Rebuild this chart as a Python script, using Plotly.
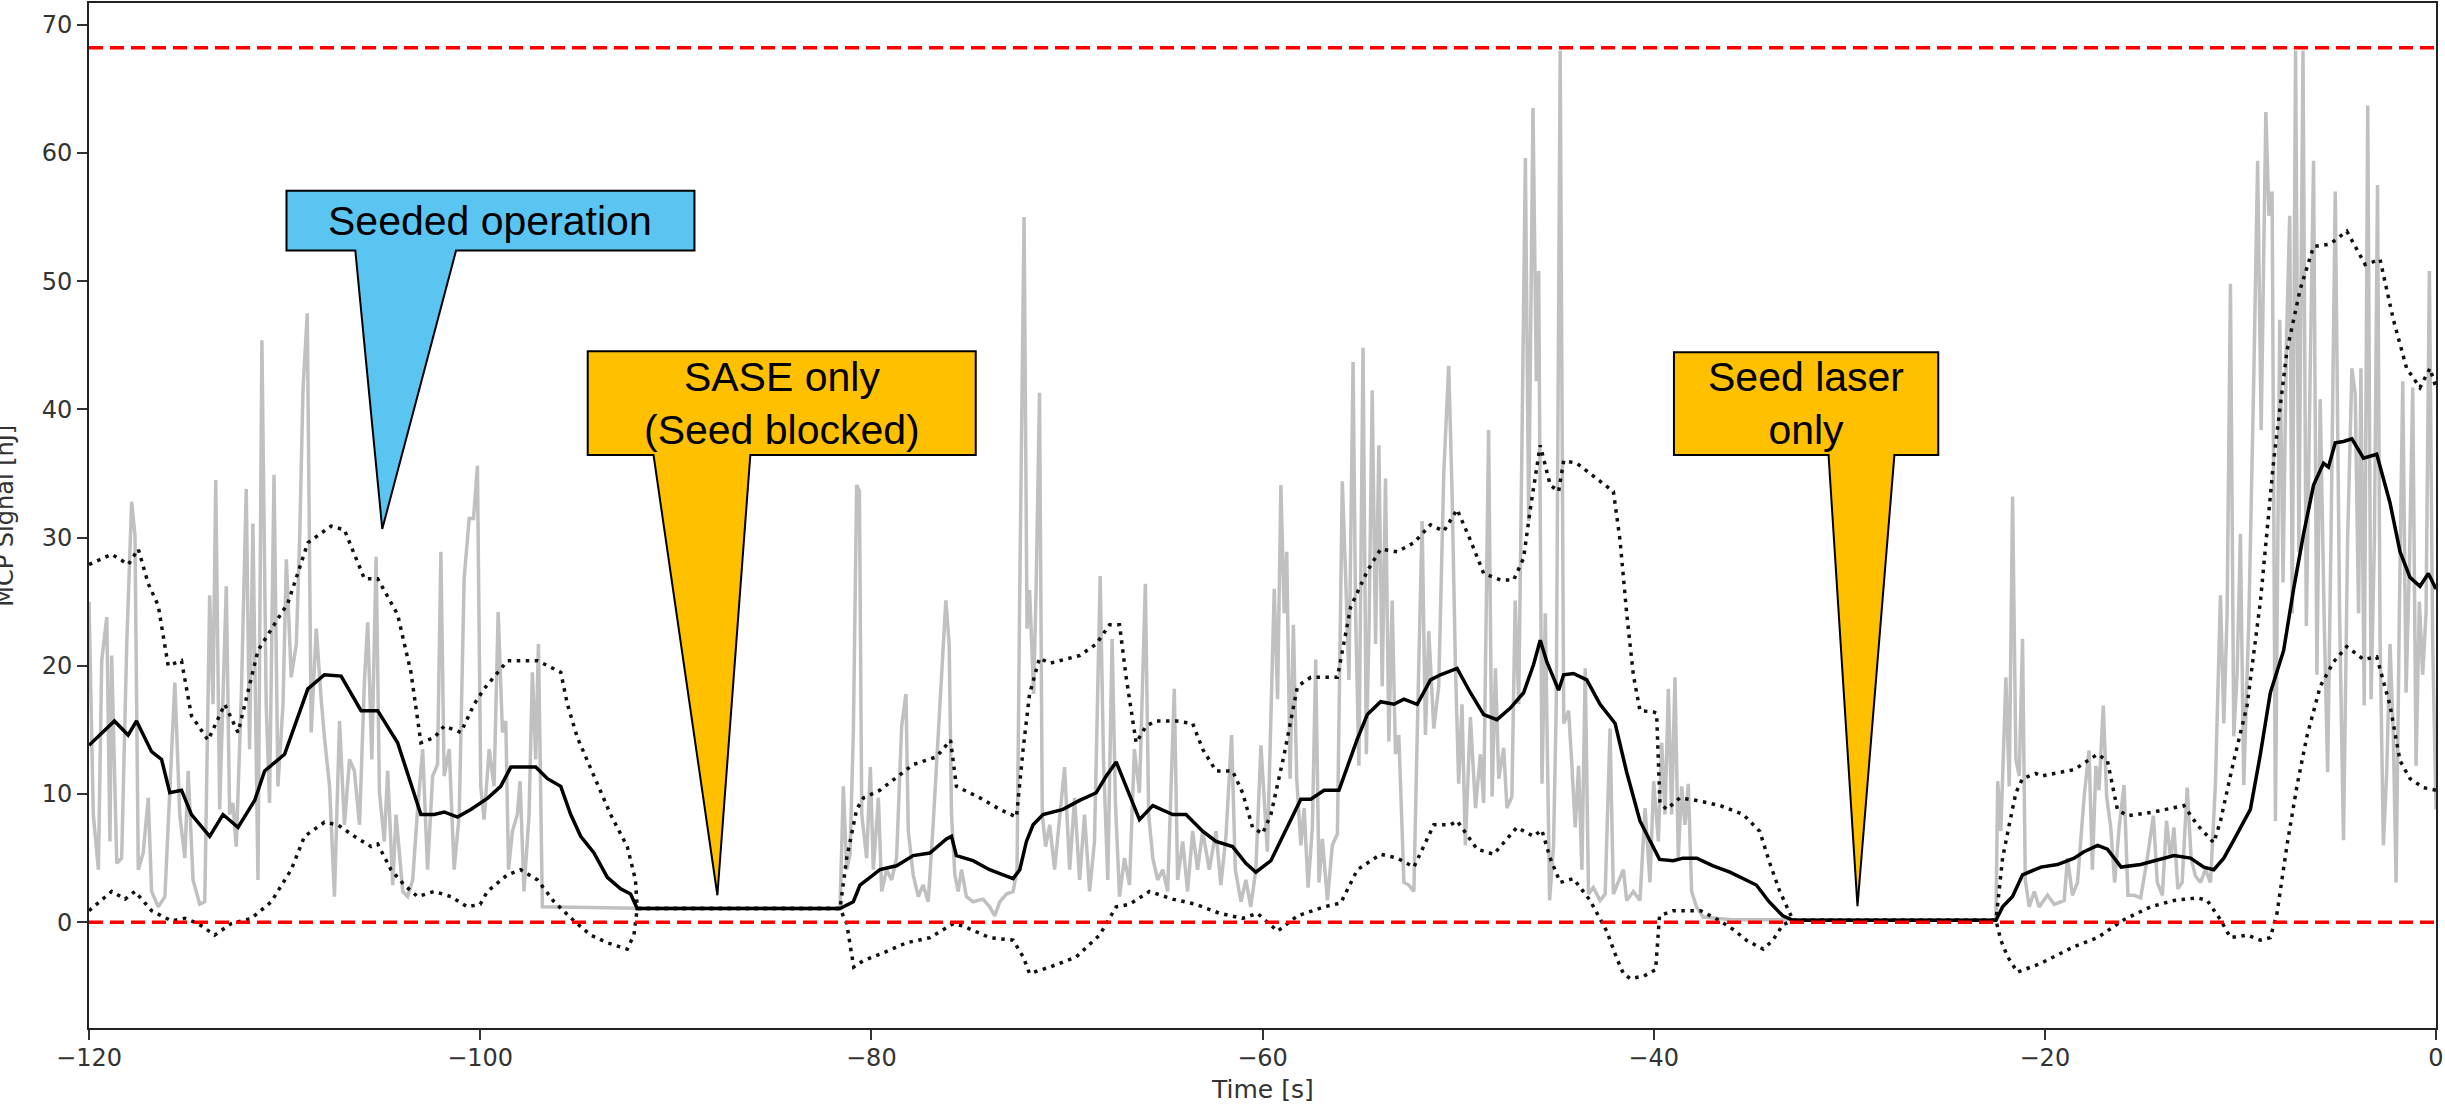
import plotly.graph_objects as go

# ---------------- data ----------------
raw_time = [
    -120.0, -119.78, -119.52, -119.35, -119.09, -118.93, -118.84, -118.58, -118.33, -118.07,
    -117.82, -117.65, -117.48, -117.23, -116.97, -116.80, -116.46, -116.12, -115.61, -115.36,
    -115.10, -114.93, -114.68, -114.34, -114.08, -113.83, -113.66, -113.52, -113.32, -112.98,
    -112.81, -112.64, -112.47, -112.21, -111.96, -111.79, -111.62, -111.36, -111.16, -110.94,
    -110.77, -110.54, -110.34, -110.08, -109.91, -109.66, -109.40, -109.23, -109.06, -108.84,
    -108.64, -108.38, -108.13, -107.96, -107.70, -107.45, -107.19, -106.94, -106.68, -106.43,
    -106.17, -105.92, -105.75, -105.54, -105.32, -105.15, -104.90, -104.73, -104.47, -104.30,
    -103.96, -103.71, -103.45, -103.20, -102.94, -102.69, -102.43, -102.18, -102.01, -101.84,
    -101.58, -101.33, -101.07, -100.82, -100.56, -100.34, -100.14, -99.97, -99.80, -99.54,
    -99.29, -99.08, -98.86, -98.69, -98.55, -98.35, -98.10, -97.96, -97.76, -97.50,
    -97.33, -97.16, -97.02, -96.82, -92.0, -81.6, -81.43, -81.26, -81.09, -80.92,
    -80.75, -80.61, -80.49, -80.24, -80.05, -79.90, -79.64, -79.47, -79.22, -78.96,
    -78.71, -78.45, -78.23, -78.11, -77.86, -77.60, -77.35, -77.09, -76.84, -76.53,
    -76.19, -76.02, -75.90, -75.73, -75.56, -75.39, -75.14, -74.80, -74.29, -73.95,
    -73.69, -73.43, -73.09, -72.75, -72.55, -72.42, -72.19, -72.04, -71.91, -71.70,
    -71.57, -71.40, -71.26, -71.09, -70.88, -70.63, -70.37, -70.12, -69.86, -69.61,
    -69.35, -69.10, -68.84, -68.59, -68.30, -68.13, -67.91, -67.69, -67.52, -67.31,
    -67.06, -66.80, -66.55, -66.29, -65.99, -65.82, -65.61, -65.36, -65.10, -64.85,
    -64.51, -64.34, -64.08, -63.83, -63.57, -63.32, -63.06, -62.72, -62.38, -62.13,
    -61.87, -61.58, -61.39, -61.10, -60.85, -60.60, -60.34, -60.08, -59.75, -59.40,
    -59.23, -59.06, -58.89, -58.76, -58.59, -58.42, -58.25, -58.04, -57.87, -57.67,
    -57.45, -57.28, -57.11, -56.94, -56.68, -56.43, -56.17, -55.92, -55.75, -55.58,
    -55.37, -55.24, -55.07, -54.86, -54.69, -54.55, -54.39, -54.22, -54.05, -53.88,
    -53.71, -53.54, -53.37, -53.20, -53.03, -52.77, -52.52, -52.26, -52.09, -51.84,
    -51.67, -51.50, -51.24, -50.99, -50.73, -50.48, -50.31, -50.14, -49.97, -49.80,
    -49.63, -49.37, -49.11, -48.86, -48.69, -48.44, -48.26, -48.09, -47.92, -47.67,
    -47.50, -47.25, -47.08, -46.90, -46.73, -46.56, -46.39, -46.17, -46.00, -45.88,
    -45.71, -45.54, -45.32, -45.12, -44.98, -44.78, -44.60, -44.35, -44.18, -44.01,
    -43.84, -43.67, -43.50, -43.33, -43.08, -42.74, -42.48, -42.23, -42.06, -41.80,
    -41.55, -41.38, -41.04, -40.70, -40.44, -40.19, -40.00, -39.76, -39.59, -39.42,
    -39.25, -39.08, -38.91, -38.74, -38.57, -38.40, -38.23, -38.06, -37.81, -37.47,
    -36.0, -22.5, -22.41, -22.25, -21.99, -21.82, -21.65, -21.48, -21.31, -21.14,
    -21.00, -20.80, -20.54, -20.29, -19.86, -19.52, -19.01, -18.84, -18.59, -18.33,
    -17.99, -17.74, -17.57, -17.39, -17.23, -17.01, -16.84, -16.63, -16.43, -16.20,
    -15.95, -15.75, -15.44, -15.10, -14.76, -14.45, -14.25, -13.99, -13.78, -13.57,
    -13.40, -13.20, -12.98, -12.72, -12.52, -12.30, -12.04, -11.79, -11.53, -11.28,
    -11.02, -10.85, -10.68, -10.51, -10.34, -10.17, -10.00, -9.83, -9.57, -9.32,
    -9.12, -8.94, -8.70, -8.54, -8.38, -8.21, -7.99, -7.82, -7.65, -7.48,
    -7.35, -7.18, -7.01, -6.80, -6.63, -6.43, -6.26, -6.09, -5.92, -5.71,
    -5.54, -5.37, -5.15, -4.93, -4.73, -4.52, -4.30, -4.13, -3.96, -3.84,
    -3.67, -3.49, -3.32, -3.15, -2.99, -2.86, -2.69, -2.52, -2.35, -2.18,
    -2.04, -1.87, -1.70, -1.53, -1.36, -1.19, -1.02, -0.85, -0.68, -0.51,
    -0.34, -0.17, 0.0,
]
raw_signal = [
    25.0, 8.4, 4.1, 20.4, 23.8, 6.3, 20.8, 4.6, 5.0, 21.7,
    32.8, 30.2, 4.1, 5.4, 9.7, 2.4, 1.2, 2.0, 18.7, 8.4,
    5.0, 11.8, 3.3, 1.4, 1.6, 25.5, 17.0, 34.5, 8.8, 26.2,
    8.4, 9.3, 5.9, 17.8, 33.8, 13.5, 31.1, 3.3, 45.4, 17.0,
    9.3, 34.9, 10.6, 17.0, 28.3, 19.1, 21.7, 29.8, 41.5, 47.5,
    14.8, 22.9, 17.4, 14.4, 10.6, 2.0, 15.7, 7.6, 12.7, 11.8,
    7.6, 18.7, 23.4, 12.7, 28.5, 10.1, 6.3, 11.8, 2.9, 8.4,
    2.4, 2.0, 3.3, 8.8, 13.5, 4.1, 11.4, 12.3, 28.9, 11.4,
    13.5, 4.1, 8.4, 26.8, 31.5, 31.5, 35.6, 10.6, 8.0, 13.5,
    10.6, 24.2, 14.8, 15.7, 4.1, 7.1, 8.4, 11.0, 2.4, 8.4,
    19.5, 12.7, 21.7, 1.2, 1.1, 1.07, 10.6, 4.1, 5.3, 14.8,
    34.1, 33.6, 8.4, 5.0, 12.1, 4.1, 9.7, 2.4, 4.1, 3.3,
    5.0, 15.3, 17.8, 7.1, 3.7, 2.0, 2.9, 1.6, 7.6, 16.1,
    25.1, 21.7, 8.4, 3.7, 2.4, 4.1, 2.0, 1.6, 1.8, 1.2,
    0.5, 1.6, 2.2, 2.4, 4.1, 24.7, 55.0, 22.9, 25.9, 17.8,
    26.4, 41.3, 8.4, 5.9, 7.6, 4.1, 8.4, 12.1, 4.1, 9.7,
    3.3, 8.4, 2.4, 6.3, 27.0, 12.7, 3.3, 22.1, 9.3, 2.0,
    5.0, 2.9, 13.5, 10.1, 26.4, 8.4, 5.0, 3.3, 4.1, 2.4,
    18.2, 3.3, 6.3, 2.4, 7.1, 4.1, 7.1, 4.1, 7.1, 2.9,
    6.7, 14.6, 4.1, 1.6, 3.3, 1.2, 4.1, 13.8, 5.5, 26.0,
    17.4, 34.1, 24.1, 28.9, 11.2, 23.2, 11.2, 6.0, 8.9, 2.7,
    7.4, 20.5, 3.1, 6.5, 1.7, 6.0, 6.9, 34.4, 27.0, 18.9,
    43.7, 24.1, 12.2, 44.8, 13.1, 23.2, 41.5, 21.7, 37.2, 18.4,
    34.6, 14.1, 25.1, 13.1, 14.6, 3.1, 2.9, 2.4, 14.6, 31.3,
    14.6, 22.7, 15.1, 18.4, 35.1, 43.4, 33.7, 20.3, 10.8, 17.0,
    6.0, 16.0, 8.9, 13.1, 9.3, 38.4, 9.8, 19.8, 11.2, 13.6,
    8.9, 9.8, 25.1, 17.0, 37.9, 59.6, 31.3, 63.5, 42.2, 50.8,
    10.8, 24.1, 1.7, 6.0, 17.0, 68.0, 15.5, 16.5, 12.2, 7.4,
    12.2, 4.1, 19.8, 2.2, 2.7, 1.7, 2.2, 15.1, 2.2, 3.1,
    4.1, 1.7, 2.4, 1.7, 8.9, 3.1, 11.0, 6.3, 14.0, 8.4,
    18.2, 8.4, 19.1, 5.0, 10.6, 7.6, 10.8, 2.4, 1.2, 0.4,
    0.2, 0.15, 11.0, 7.1, 19.1, 10.6, 33.2, 12.7, 11.4, 22.1,
    3.3, 1.2, 2.4, 1.2, 2.1, 1.4, 1.7, 5.0, 2.1, 3.1,
    9.8, 13.4, 4.1, 12.2, 10.3, 16.9, 9.8, 7.4, 3.1, 7.4,
    10.7, 2.1, 2.1, 1.9, 5.0, 8.3, 3.1, 2.1, 7.9, 5.0,
    7.4, 2.6, 3.1, 10.5, 5.0, 3.6, 3.1, 4.1, 3.1, 10.7,
    25.5, 15.5, 24.1, 49.8, 14.5, 19.3, 30.3, 10.7, 23.6, 42.2,
    59.4, 38.4, 63.2, 55.1, 57.0, 7.9, 47.0, 26.5, 45.1, 55.1,
    24.1, 68.0, 28.9, 68.0, 23.1, 43.2, 59.4, 19.3, 40.8, 23.1,
    11.7, 29.8, 57.0, 24.1, 6.4, 29.8, 43.2, 41.2, 24.1, 43.2,
    16.9, 63.7, 17.4, 29.8, 57.5, 22.2, 6.0, 11.7, 21.7, 14.5,
    3.1, 24.6, 42.2, 17.9, 27.9, 41.7, 12.2, 25.0, 19.3, 24.1,
    50.8, 21.7, 8.8,
]

mean_time = [
    -120.0, -118.7, -118.0, -117.57, -116.80, -116.29, -115.87, -115.27, -114.76, -113.83,
    -113.15, -112.38, -111.53, -111.02, -110.0, -108.81, -107.96, -107.11, -106.09, -105.24,
    -104.22, -103.03, -102.35, -101.84, -101.16, -100.48, -99.6, -98.95, -98.43, -97.76,
    -97.16, -96.56, -95.88, -95.37, -94.86, -94.18, -93.50, -92.82, -92.31, -91.97,
    -81.6, -80.92, -80.58, -79.9, -79.56, -78.71, -77.86, -77.01, -76.16, -75.90,
    -75.65, -74.80, -73.95, -73.26, -72.75, -72.41, -72.07, -71.73, -71.22, -70.20,
    -69.35, -68.50, -67.99, -67.48, -66.97, -66.29, -65.61, -64.59, -63.91, -63.06,
    -62.38, -61.53, -60.85, -60.34, -59.57, -58.89, -58.04, -57.53, -56.85, -56.09,
    -55.66, -55.15, -54.64, -53.96, -53.28, -52.77, -52.09, -51.41, -50.90, -50.05,
    -49.37, -48.69, -48.01, -47.33, -46.65, -46.14, -45.80, -45.46, -44.86, -44.60,
    -44.10, -43.42, -42.74, -41.97, -41.38, -40.70, -40.2, -39.7, -39.0, -38.5,
    -37.8, -36.96, -36.1, -35.26, -34.75, -34.1, -33.4, -32.87, -22.5, -22.16,
    -21.65, -21.14, -20.2, -19.35, -18.5, -18.0, -17.3, -16.8, -16.1, -15.1,
    -14.4, -13.4, -12.55, -11.87, -11.36, -10.85, -10.34, -9.49, -8.98, -8.47,
    -7.79, -7.28, -6.77, -6.26, -5.75, -5.5, -5.15, -4.73, -4.3, -3.71,
    -3.03, -2.35, -1.84, -1.33, -0.82, -0.39, 0.0,
]
mean_signal = [
    13.8, 15.7, 14.6, 15.7, 13.3, 12.7, 10.1, 10.3, 8.4, 6.7,
    8.4, 7.4, 9.5, 11.8, 13.1, 18.2, 19.3, 19.2, 16.5, 16.5,
    14.0, 8.4, 8.4, 8.6, 8.2, 8.8, 9.7, 10.6, 12.1, 12.1,
    12.1, 11.2, 10.6, 8.4, 6.7, 5.4, 3.5, 2.6, 2.2, 1.07,
    1.07, 1.6, 2.9, 3.7, 4.1, 4.4, 5.2, 5.4, 6.5, 6.7,
    5.2, 4.8, 4.1, 3.7, 3.4, 4.1, 6.3, 7.6, 8.4, 8.8,
    9.5, 10.1, 11.4, 12.5, 10.6, 8.0, 9.1, 8.4, 8.4, 7.1,
    6.3, 5.9, 4.6, 3.9, 4.8, 6.9, 9.6, 9.6, 10.3, 10.3,
    12.2, 14.3, 16.2, 17.2, 17.0, 17.4, 17.0, 18.9, 19.3, 19.8,
    17.9, 16.2, 15.8, 16.7, 17.9, 20.1, 22.0, 20.3, 18.1, 19.3,
    19.4, 18.9, 17.0, 15.5, 11.7, 7.9, 6.4, 4.9, 4.8, 5.0,
    5.0, 4.4, 3.9, 3.3, 2.9, 1.6, 0.5, 0.15, 0.15, 1.2,
    2.0, 3.7, 4.3, 4.5, 5.0, 5.5, 6.0, 5.7, 4.3, 4.5,
    4.8, 5.2, 5.0, 4.3, 4.1, 5.0, 6.4, 8.8, 13.1, 17.9,
    21.2, 26.0, 30.3, 34.1, 35.8, 35.5, 37.4, 37.5, 37.7, 36.2,
    36.5, 32.7, 28.9, 26.9, 26.2, 27.2, 26.0,
]

upper_time = [
    -120.0, -118.84, -117.99, -117.48, -116.97, -116.46, -115.95, -115.27, -114.76, -113.91,
    -113.06, -112.38, -111.36, -110.68, -109.83, -108.81, -107.62, -106.94, -105.92, -105.24,
    -104.22, -103.54, -103.03, -102.35, -101.84, -100.99, -100.31, -99.80, -98.6, -97.07,
    -95.88, -95.54, -95.03, -94.18, -93.33, -92.48, -92.06, -91.97, -81.6, -81.26,
    -80.75, -80.4, -79.56, -77.86, -76.67, -75.95, -75.65, -74.45, -73.43, -72.58,
    -72.24, -71.91, -71.40, -70.88, -69.35, -68.50, -67.82, -67.31, -66.97, -66.46,
    -65.95, -65.44, -64.42, -63.57, -63.06, -62.38, -61.53, -61.02, -60.51, -60.0,
    -59.57, -58.89, -58.21, -57.53, -56.17, -55.49, -54.64, -53.96, -53.11, -52.26,
    -51.41, -50.73, -50.05, -49.37, -48.69, -47.84, -47.16, -46.65, -46.31, -45.80,
    -45.29, -44.86, -44.60, -43.93, -42.90, -42.06, -41.72, -41.38, -41.04, -40.70,
    -40.0, -39.85, -39.68, -39.34, -38.66, -37.81, -36.61, -35.42, -34.58, -34.06,
    -33.55, -32.87, -22.5, -22.16, -21.82, -21.48, -21.14, -20.46, -20.2, -18.5,
    -17.31, -16.8, -16.29, -15.78, -14.42, -12.89, -12.21, -11.36, -11.02, -10.34,
    -9.66, -8.98, -8.30, -7.62, -6.94, -6.26, -5.41, -4.56, -3.62, -2.86,
    -2.18, -1.50, -0.82, -0.31, 0.0,
]
upper_signal = [
    27.9, 28.7, 27.9, 29.1, 26.4, 24.7, 20.0, 20.4, 16.1, 14.2,
    17.0, 14.8, 21.2, 22.9, 24.9, 29.6, 30.9, 30.6, 26.8, 26.8,
    24.0, 19.5, 14.0, 14.4, 15.3, 14.8, 17.0, 18.2, 20.4, 20.4,
    19.5, 17.0, 14.4, 11.4, 8.4, 5.9, 3.3, 1.07, 1.07, 5.0,
    8.8, 9.7, 10.3, 12.3, 12.9, 14.2, 10.6, 9.7, 8.8, 8.2,
    13.5, 17.8, 20.6, 20.2, 20.8, 21.7, 23.2, 23.2, 19.1, 14.0,
    15.3, 15.7, 15.7, 15.5, 13.5, 11.8, 11.8, 10.1, 7.4, 6.9,
    8.4, 13.1, 18.4, 19.1, 19.1, 24.6, 27.4, 29.1, 28.9, 29.6,
    31.0, 30.5, 32.2, 29.8, 27.2, 26.7, 26.7, 28.4, 32.2, 37.2,
    34.1, 33.6, 36.0, 35.8, 34.6, 33.6, 29.8, 24.1, 19.3, 16.5,
    16.4, 16.3, 9.3, 8.8, 9.7, 9.5, 9.1, 8.4, 7.1, 4.6,
    2.4, 0.15, 0.15, 5.0, 7.6, 10.1, 11.2, 11.6, 11.4, 11.9,
    13.1, 12.6, 8.8, 8.3, 8.6, 9.1, 7.6, 6.2, 7.9, 12.6,
    16.9, 25.0, 36.0, 44.6, 49.4, 52.7, 52.9, 53.9, 51.3, 51.7,
    47.0, 43.2, 41.7, 43.2, 41.7,
]

lower_time = [
    -120.0, -118.84, -118.16, -117.65, -116.80, -115.78, -115.10, -114.42, -113.57, -112.72,
    -111.70, -110.68, -109.66, -108.98, -107.96, -107.28, -106.43, -105.58, -105.24, -104.56,
    -103.88, -103.20, -102.35, -101.50, -100.65, -100.0, -99.63, -98.61, -97.93, -97.07,
    -96.22, -95.20, -94.35, -93.50, -92.48, -92.14, -91.97, -81.6, -81.26, -80.9,
    -80.41, -79.56, -78.2, -77.0, -75.8, -75.3, -73.95, -72.75, -72.24, -71.91,
    -70.88, -69.52, -68.33, -67.48, -66.8, -65.78, -64.59, -63.4, -62.2, -61.02,
    -60.26, -59.23, -58.21, -56.85, -56.0, -55.15, -53.96, -53.11, -52.26, -51.24,
    -50.39, -50.05, -49.03, -48.18, -46.99, -46.14, -45.72, -45.29, -44.78, -44.10,
    -43.25, -42.40, -41.89, -41.55, -41.2, -40.5, -39.9, -39.7, -39.0, -37.6,
    -36.6, -35.9, -35.26, -34.4, -33.9, -33.4, -32.87, -22.5, -22.25, -21.9,
    -21.4, -20.2, -18.5, -17.31, -15.95, -14.6, -13.4, -12.2, -11.7, -11.02,
    -10.51, -9.66, -8.98, -8.47, -8.13, -7.62, -7.10, -6.60, -5.92, -5.24,
    -4.56, -3.71, -3.03, -2.35, -1.84, -1.33, -0.65, 0.0,
]
lower_signal = [
    0.9, 2.4, 1.8, 2.4, 0.9, 0.1, 0.3, -0.1, -1.0, -0.1,
    0.3, 1.6, 4.1, 6.7, 7.8, 7.6, 6.7, 5.9, 6.1, 4.1,
    2.9, 2.0, 2.4, 2.0, 1.2, 1.4, 2.4, 3.7, 4.1, 3.3,
    1.6, 0.1, -1.0, -1.6, -2.1, -1.0, 1.07, 1.07, -0.1, -3.5,
    -3.0, -2.5, -1.6, -1.2, -0.1, -0.3, -1.2, -1.4, -2.7, -4.0,
    -3.5, -2.7, -1.0, 1.2, 1.4, 2.4, 1.8, 1.4, 0.7, 0.3,
    0.7, -0.7, 0.5, 1.2, 1.5, 4.1, 5.3, 5.0, 4.3, 7.6,
    7.6, 7.9, 5.7, 5.3, 7.4, 6.7, 7.2, 5.0, 3.1, 3.4,
    1.7, -0.7, -2.8, -4.0, -4.4, -4.2, -3.7, 0.5, 0.9, 0.9,
    0.1, -0.6, -1.4, -2.1, -1.4, -0.2, 0.15, 0.15, -1.4, -2.7,
    -3.9, -3.2, -1.9, -1.2, 0.2, 1.2, 1.7, 1.9, 1.7, 0.2,
    -1.2, -1.0, -1.4, -1.2, 0.7, 6.0, 10.7, 14.5, 18.4, 20.3,
    21.5, 20.5, 20.7, 16.9, 12.6, 11.2, 10.5, 10.3,
]

limit_levels = [0.0, 68.2]
x_range = [-120, 0]
y_range = [-8.25, 71.7]
x_ticks = [-120, -100, -80, -60, -40, -20, 0]
y_ticks = [0, 10, 20, 30, 40, 50, 60, 70]

callout_texts = ["Seeded operation", "SASE only<br>(Seed blocked)", "Seed laser<br>only"]

# ---------------- figure ----------------
W, H = 2445, 1109
ML, MR, MT, MB = 89, 3, 1, 81
PW, PH = W - ML - MR, H - MT - MB


def px(x):
    return (x - ML) / PW


def py(y):
    return (H - MB - y) / PH


fig = go.Figure()

fig.add_trace(go.Scatter(x=raw_time, y=raw_signal, mode="lines",
                         line=dict(color="#c0c0c0", width=3.5), hoverinfo="skip"))
fig.add_trace(go.Scatter(x=upper_time, y=upper_signal, mode="lines",
                         line=dict(color="#111111", width=3.5, dash="3.5px,5.5px")))
fig.add_trace(go.Scatter(x=lower_time, y=lower_signal, mode="lines",
                         line=dict(color="#111111", width=3.5, dash="3.5px,5.5px")))
fig.add_trace(go.Scatter(x=mean_time, y=mean_signal, mode="lines",
                         line=dict(color="#000000", width=3.5)))
for lvl in limit_levels:
    fig.add_trace(go.Scatter(x=x_range, y=[lvl, lvl], mode="lines",
                             line=dict(color="#ff0000", width=3.5, dash="14px,7px")))


def callout(box, base, tip, fill):
    l, t, r, b = box
    bl, br = base
    tx, ty = tip
    pts = [(l, t), (r, t), (r, b), (br, b), (tx, ty), (bl, b), (l, b)]
    path = "M " + " L ".join(f"{px(a):.5f},{py(c):.5f}" for a, c in pts) + " Z"
    fig.add_shape(type="path", path=path, xref="paper", yref="paper",
                  fillcolor=fill, line=dict(color="#000000", width=2), layer="above")
    return ((l + r) / 2, (t + b) / 2)


centers = [
    callout((287, 189, 696, 249), (356, 457), (383, 528), "#5bc5f2"),
    callout((589, 350, 978, 454), (655, 752), (719, 895), "#ffc000"),
    callout((1678, 351, 1943, 454), (1833, 1899), (1862, 906), "#ffc000"),
]
for (cx, cy), txt in zip(centers, callout_texts):
    fig.add_annotation(x=px(cx), y=py(cy), xref="paper", yref="paper", text=txt,
                       showarrow=False, xanchor="center", yanchor="middle",
                       font=dict(family="Liberation Sans, Arial", size=41, color="#000000"))

# axis titles
fig.add_annotation(x=px(4), y=0.5, xref="paper", yref="paper", text="MCP Signal [nJ]",
                   textangle=-90, showarrow=False, xanchor="center", yanchor="middle",
                   font=dict(family="DejaVu Sans", size=24, color="#333333"))
fig.add_annotation(x=0.5, y=py(1090), xref="paper", yref="paper", text="Time [s]",
                   showarrow=False, xanchor="center", yanchor="middle",
                   font=dict(family="DejaVu Sans", size=25, color="#333333"))

axis_common = dict(showgrid=False, zeroline=False, showline=True, mirror=True,
                   linecolor="#222222", linewidth=2, ticks="outside", ticklen=10,
                   tickwidth=2, tickcolor="#333333", ticklabeloverflow="allow",
                   tickfont=dict(family="DejaVu Sans", size=24, color="#333333"))

fig.update_layout(
    width=W, height=H, margin=dict(l=ML, r=MR, t=MT, b=MB),
    paper_bgcolor="white", plot_bgcolor="white", showlegend=False,
    xaxis=dict(range=x_range, tickvals=x_ticks, ticklabelstandoff=-3, **axis_common),
    yaxis=dict(range=y_range, tickvals=y_ticks, ticklabelstandoff=0, **axis_common),
)

fig.write_html("out.html", config={"displayModeBar": False},
               post_script="document.body.style.margin='0';")
